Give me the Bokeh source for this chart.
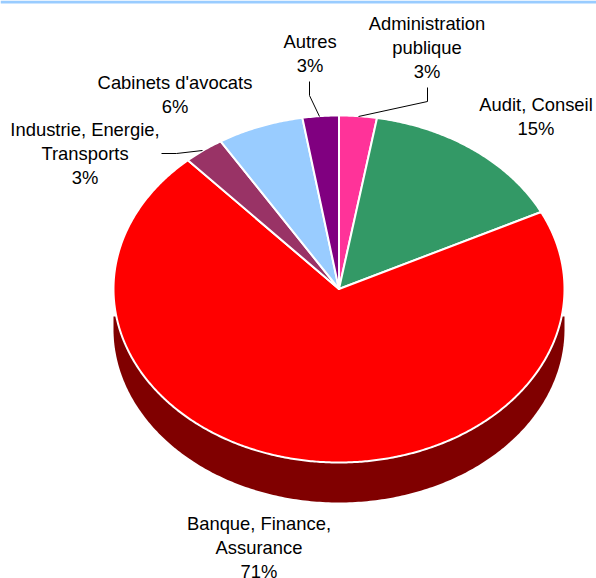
import numpy as np
from bokeh.plotting import figure
from bokeh.models import Range1d
from bokeh.core.properties import value
from bokeh.embed import file_html
from bokeh.resources import INLINE

# data, clockwise from 12 o'clock
categories = ["Administration publique", "Audit, Conseil", "Banque, Finance, Assurance",
              "Industrie, Energie, Transports", "Cabinets d'avocats", "Autres"]
shares = [2.7, 15.0, 70.7, 2.9, 6.2, 2.6]
shown_pct = ["3%", "15%", "71%", "3%", "6%", "3%"]
colors = ["#ff3399", "#339966", "#ff0000", "#993366", "#99ccff", "#800080"]
label_lines = [["Administration", "publique"], ["Audit, Conseil"], ["Banque, Finance,", "Assurance"],
               ["Industrie, Energie,", "Transports"], ["Cabinets d'avocats"], ["Autres"]]
label_x = [426.5, 535.5, 258.5, 84.5, 174.5, 309.5]
label_top = [22.5, 103.5, 522.5, 128.5, 81.5, 40.5]
leaders = [([427, 427, 358], [87, 101, 116]), ([], []), ([], []),
           ([161, 176, 202], [153, 153, 150]), ([], []), ([309, 309, 319], [81, 95, 116])]

W, H = 596, 578
CX, CY, RX, RY, DEPTH, SIDE_TOP = 338.5, 288.5, 225.5, 173.5, 40, 316

p = figure(width=W, height=H, output_backend="svg", toolbar_location=None,
           x_range=Range1d(0, W), y_range=Range1d(H, 0), min_border=0,
           outline_line_color=None)
p.axis.visible = False
p.grid.visible = False

# top rule
p.quad(left=[0], right=[W], top=[0], bottom=[3], fill_color="#99ccff", line_width=0, line_color=None)

# side of the pie
t = np.linspace(np.pi, 0, 240)
sx = list(CX + RX * np.cos(t))
sy = list(CY + DEPTH + RY * np.sin(t))
p.patch([CX - RX] + sx + [CX + RX], [SIDE_TOP] + sy + [SIDE_TOP], color="#800000", line_width=0)

# slices
edges = np.cumsum([0] + shares) / sum(shares) * 2 * np.pi
xs, ys = [], []
for a, b in zip(edges[:-1], edges[1:]):
    th = np.linspace(a, b, max(int((b - a) * 120), 8))
    xs.append([CX] + list(CX + RX * np.sin(th)))
    ys.append([CY] + list(CY - RY * np.cos(th)))
p.patches(xs, ys, fill_color=colors, line_color="white", line_width=2, line_join="round")

# labels
tx, ty, tt = [], [], []
for x, top, lines, pct in zip(label_x, label_top, label_lines, shown_pct):
    for i, s in enumerate(lines + [pct]):
        tx.append(x); ty.append(top + 24 * i); tt.append(s)
p.text(tx, ty, text=tt, text_font=value("Liberation Sans"), text_font_size="18.4px",
       text_align="center", text_baseline="middle", text_color="#000000")

for lx, ly in leaders:
    if lx:
        p.line(lx, ly, line_color="#000000", line_width=1)

open("out.html", "w").write(file_html(p, INLINE))
